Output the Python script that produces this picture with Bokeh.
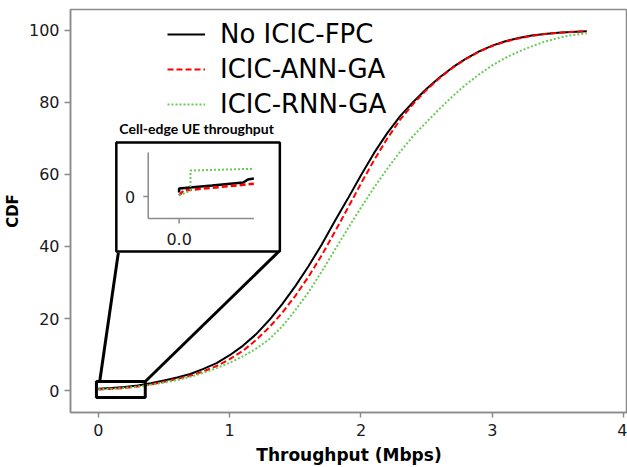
from bokeh.plotting import figure
from bokeh.models import Range1d, Legend, LegendItem
from bokeh.core.properties import value
from bokeh.embed import file_html
from bokeh.resources import INLINE

# ---- main CDF data (Throughput in Mbps, CDF in %) ----
tput_x = [0.0, 0.1, 0.2, 0.3, 0.4, 0.5, 0.6, 0.7, 0.8, 0.9, 1.0, 1.1, 1.2, 1.3, 1.4, 1.5,
          1.6, 1.7, 1.8, 1.9, 2.0, 2.1, 2.2, 2.3, 2.4, 2.5, 2.6, 2.7, 2.8, 2.9, 3.0, 3.1,
          3.2, 3.3, 3.4, 3.5, 3.6, 3.72]

black_y = [0.5, 0.7, 0.95, 1.4, 2.0, 2.8, 3.6, 4.6, 6.0, 7.6, 9.8, 12.4, 15.6, 19.5, 24.0, 29.0,
           34.5, 40.5, 47.0, 53.3, 59.8, 66.0, 71.5, 76.3, 80.2, 83.8, 87.0, 89.8, 92.2, 94.2, 95.8, 97.0,
           97.9, 98.6, 99.0, 99.35, 99.6, 99.8]

red_y = [0.3, 0.45, 0.7, 1.1, 1.7, 2.4, 3.2, 4.1, 5.3, 6.8, 8.7, 11.0, 14.0, 17.5, 21.6, 26.3,
         31.6, 37.5, 44.0, 50.7, 57.5, 64.0, 70.0, 75.3, 79.7, 83.5, 86.8, 89.7, 92.1, 94.1, 95.7, 96.9,
         97.8, 98.5, 99.0, 99.35, 99.6, 99.8]

green_y = [0.3, 0.45, 0.7, 1.1, 1.6, 2.2, 2.9, 3.8, 4.9, 6.2, 7.7, 9.5, 11.6, 14.2, 17.8, 22.3,
           27.3, 33.0, 39.0, 45.0, 50.8, 56.4, 61.6, 66.4, 70.8, 74.6, 78.3, 81.8, 85.0, 87.8, 90.3, 92.4,
           94.1, 95.6, 96.9, 97.9, 98.7, 99.2]

series_names = ["No ICIC-FPC", "ICIC-ANN-GA", "ICIC-RNN-GA"]
x_ticks = [0, 1, 2, 3, 4]
y_ticks = [0, 20, 40, 60, 80, 100]

# ---- inset (cell-edge UE throughput) data, in inset units ----
inset_black_x = [0.0, 0.0, 0.11, 0.215, 0.23, 0.25]
inset_black_y = [0.4, 0.8, 1.1, 1.4, 1.7, 1.8]
inset_red_x = [0.0, 0.015, 0.25]
inset_red_y = [0.1, 0.6, 1.27]
inset_green_x = [0.0, 0.038, 0.038, 0.25]
inset_green_y = [0.1, 0.6, 2.6, 2.77]
inset_title = "Cell-edge UE throughput"

# zoom rectangle on the main chart and inset box
zoom_x0, zoom_x1, zoom_y0, zoom_y1 = -0.015, 0.357, -1.94, 2.5
inset_box_main = (0.152, 38.3, 1.374, 38.6)  # bottom-left, bottom-right of inset box in main units

FONT = "DejaVu Sans"
AXIS_GRAY = "#8a8a8a"

p = figure(width=627, height=467,
           x_range=Range1d(-0.2125, 4.03), y_range=Range1d(-6.11, 105.83),
           output_backend="svg", toolbar_location=None,
           min_border_left=68, min_border_right=0, min_border_top=9, min_border_bottom=55)

p.extra_x_ranges = {"ix": Range1d(-0.3633, 1.5)}
p.extra_y_ranges = {"iy": Range1d(-21.6, 18.7)}

p.xgrid.visible = False
p.ygrid.visible = False
p.outline_line_color = AXIS_GRAY
p.outline_line_width = 1.5

for ax in (p.xaxis[0], p.yaxis[0]):
    ax.axis_line_color = AXIS_GRAY
    ax.axis_line_width = 1.5
    ax.major_tick_line_color = AXIS_GRAY
    ax.major_tick_line_width = 1.5
    ax.minor_tick_line_color = None
    ax.major_tick_in = 0
    ax.major_label_text_font = FONT
    ax.major_label_text_font_size = "16px"
    ax.major_label_text_color = "#1a1a1a"
    ax.axis_label_text_font = FONT
    ax.axis_label_text_font_style = "bold"
    ax.axis_label_text_color = "#000000"

p.xaxis.ticker = x_ticks
p.yaxis.ticker = y_ticks
p.xaxis.major_tick_out = 5
p.yaxis.major_tick_out = 6
p.xaxis.major_label_standoff = 6
p.yaxis.major_label_standoff = 5
p.xaxis.axis_label = "Throughput (Mbps)"
p.yaxis.axis_label = "CDF"
p.xaxis.axis_label_text_font_size = "17px"
p.yaxis.axis_label_text_font_size = "15px"
p.xaxis.axis_label_standoff = 6
p.yaxis.axis_label_standoff = 4

# main curves
r_black = p.line(tput_x, black_y, line_color="black", line_width=2)
r_red = p.line(tput_x, red_y, line_color="#ff0000", line_width=2, line_dash="6 3")
r_green = p.line(tput_x, green_y, line_color="#66cc55", line_width=2, line_dash="2 2")

# zoom rectangle and connectors
p.quad(left=[zoom_x0], right=[zoom_x1], bottom=[zoom_y0], top=[zoom_y1],
       fill_color=None, line_color="black", line_width=3)
p.segment(x0=[0.01, zoom_x1], y0=[zoom_y1, zoom_y1],
          x1=[inset_box_main[0], inset_box_main[2]], y1=[inset_box_main[1], inset_box_main[3]],
          line_color="black", line_width=3)

# inset box (inset units)
p.quad(left=[-0.21], right=[0.337], bottom=[-5.5], top=[5.4],
       x_range_name="ix", y_range_name="iy",
       fill_color="white", line_color="black", line_width=2.5)
p.text(x=[-0.2], y=[6.8], text=[inset_title], x_range_name="ix", y_range_name="iy",
       text_font=value("Lato"), text_font_style="bold", text_font_size="14px",
       text_baseline="middle", text_align="left", text_color="black")
# mini axes
p.segment(x0=[-0.1033, -0.1033], y0=[4.4, -2.2], x1=[-0.1033, 0.25], y1=[-2.2, -2.2],
          x_range_name="ix", y_range_name="iy", line_color=AXIS_GRAY, line_width=1.5)
p.segment(x0=[-0.12, 0.0], y0=[0.0, -2.2], x1=[-0.1033, 0.0], y1=[0.0, -2.7],
          x_range_name="ix", y_range_name="iy", line_color=AXIS_GRAY, line_width=1.5)
p.text(x=[-0.147], y=[0.0], text=["0"], x_range_name="ix", y_range_name="iy",
       text_font=value(FONT), text_font_size="16px", text_baseline="middle",
       text_align="right", text_color="#1a1a1a")
p.text(x=[0.0], y=[-4.2], text=["0.0"], x_range_name="ix", y_range_name="iy",
       text_font=value(FONT), text_font_size="16px", text_baseline="middle",
       text_align="center", text_color="#1a1a1a")
# inset curves
p.line(inset_black_x, inset_black_y, x_range_name="ix", y_range_name="iy",
       line_color="black", line_width=2.5)
p.line(inset_red_x, inset_red_y, x_range_name="ix", y_range_name="iy",
       line_color="#ff0000", line_width=2.5, line_dash="6 3")
p.line(inset_green_x, inset_green_y, x_range_name="ix", y_range_name="iy",
       line_color="#66cc55", line_width=2, line_dash="2 2")

legend = Legend(items=[LegendItem(label=series_names[0], renderers=[r_black]),
                       LegendItem(label=series_names[1], renderers=[r_red]),
                       LegendItem(label=series_names[2], renderers=[r_green])],
                location=(97, 293), border_line_color=None, background_fill_alpha=0,
                padding=0, margin=0, spacing=5, label_height=30, glyph_height=30,
                glyph_width=38, label_standoff=15,
                label_text_font=FONT, label_text_font_size="26px",
                label_text_color="black")
p.add_layout(legend)

open("out.html", "w").write(file_html(p, INLINE))
